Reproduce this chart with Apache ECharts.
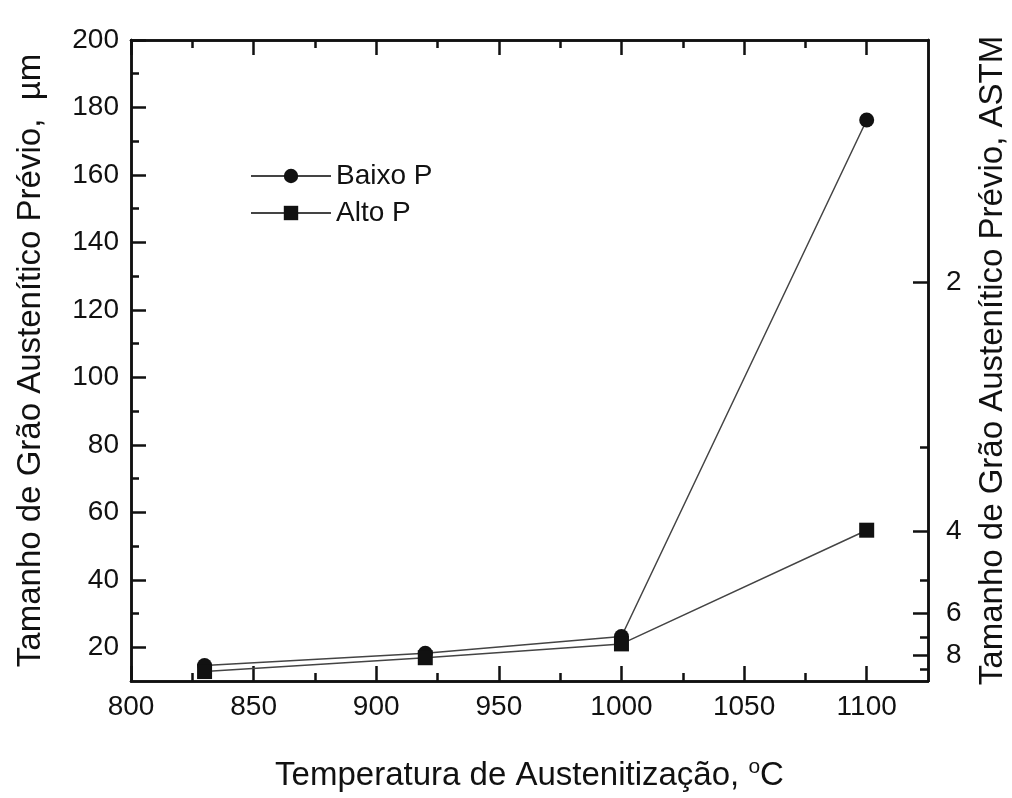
<!DOCTYPE html>
<html>
<head>
<meta charset="utf-8">
<script src="https://cdn.jsdelivr.net/npm/echarts@6/dist/echarts.min.js"></script>
<style>
  html, body { margin: 0; padding: 0; background: #fff; }
  #chart { width: 1012px; height: 798px; }
</style>
</head>
<body>
<div id="chart"></div>
<script>
// temperatura de austenitização (°C)
const temps = [830, 920, 1000, 1100];
// tamanho de grão (µm)
const baixoP = [14.6, 18.2, 23.2, 176.3];
const altoP = [12.8, 16.9, 21.0, 54.7];

// ticks
const xMajor = [800, 850, 900, 950, 1000, 1050, 1100];
const xMinor = [825, 875, 925, 975, 1025, 1075];
const yMajor = [20, 40, 60, 80, 100, 120, 140, 160, 180, 200];
const yMinor = [30, 50, 70, 90, 110, 130, 150, 170, 190];
// escala ASTM (posição em µm no eixo esquerdo)
const astmLabels = ["2", "4", "6", "8"];
const astmMajor = [128.2, 54.4, 30.0, 17.5];
const astmMinor = [79.2, 39.8, 23.1, 13.6];

const font = "Liberation Sans, Arial, sans-serif";
const black = "#111";
const lineW = 2.5;

let myChart = echarts.init(document.getElementById("chart"));

function xAx(pos, ticks, len, opts) {
  return Object.assign({
    type: "value", position: pos, min: 800, max: 1125,
    axisLine: { show: true, lineStyle: { color: black, width: lineW } },
    axisTick: { show: true, inside: true, length: len, customValues: ticks, lineStyle: { color: black, width: lineW } },
    axisLabel: { show: false },
    splitLine: { show: false },
  }, opts || {});
}
function yAx(pos, ticks, len, opts) {
  return Object.assign({
    type: "value", position: pos, min: 10, max: 200,
    axisLine: { show: true, lineStyle: { color: black, width: lineW } },
    axisTick: { show: true, inside: true, length: len, customValues: ticks, lineStyle: { color: black, width: lineW } },
    axisLabel: { show: false },
    splitLine: { show: false },
  }, opts || {});
}

myChart.setOption({
  animation: false,
  backgroundColor: "#fff",
  textStyle: { fontFamily: font },
  grid: { left: 131, right: 84, top: 40, bottom: 117, outerBoundsMode: "none", containLabel: false },
  legend: {
    orient: "vertical",
    left: 245,
    top: 157,
    itemWidth: 80,
    itemHeight: 18,
    itemGap: 9,
    textStyle: { fontSize: 28, color: black, fontFamily: font },
    data: ["Baixo P", "Alto P"],
  },
  xAxis: [
    xAx("bottom", xMajor, 15, {
      name: "Temperatura de Austenitização, {sup|o}C",
      nameLocation: "middle",
      nameGap: 76,
      nameTextStyle: {
        fontSize: 33, color: black, fontFamily: font,
        rich: { sup: { fontSize: 21, color: black, fontFamily: font, verticalAlign: "top", padding: [0, 0, 16, 0] } },
      },
      axisLabel: {
        show: true, customValues: xMajor, fontSize: 28, color: black, margin: 12, fontFamily: font,
        formatter: function (v) { return String(v); },
      },
    }),
    xAx("bottom", xMinor, 8),
    xAx("top", xMajor, 15),
    xAx("top", xMinor, 8),
  ],
  yAxis: [
    yAx("left", yMajor, 15, {
      name: "Tamanho de Grão Austenítico Prévio,  µm",
      nameLocation: "middle",
      nameGap: 84,
      nameRotate: 90,
      nameTextStyle: { fontSize: 33, color: black, fontFamily: font },
      axisLabel: { show: true, customValues: yMajor, fontSize: 28, color: black, margin: 12, fontFamily: font },
    }),
    yAx("left", yMinor, 8),
    yAx("right", astmMajor, 15, {
      name: "Tamanho de Grão Austenítico Prévio, ASTM",
      nameLocation: "middle",
      nameGap: 48,
      nameRotate: 90,
      nameTextStyle: { fontSize: 33, color: black, fontFamily: font },
      axisLabel: {
        show: true, customValues: astmMajor, fontSize: 28, color: black, margin: 18, fontFamily: font,
        formatter: function (v) {
          let i = astmMajor.indexOf(v);
          return i >= 0 ? astmLabels[i] : "";
        },
      },
    }),
    yAx("right", astmMinor, 8),
  ],
  series: [
    {
      name: "Baixo P",
      type: "line",
      data: temps.map((t, i) => [t, baixoP[i]]),
      symbol: "circle",
      symbolSize: 15,
      itemStyle: { color: "#111" },
      lineStyle: { color: "#444", width: 1.5 },
    },
    {
      name: "Alto P",
      type: "line",
      data: temps.map((t, i) => [t, altoP[i]]),
      symbol: "rect",
      symbolSize: 15,
      itemStyle: { color: "#111" },
      lineStyle: { color: "#444", width: 1.5 },
    },
  ],
});
</script>
</body>
</html>
